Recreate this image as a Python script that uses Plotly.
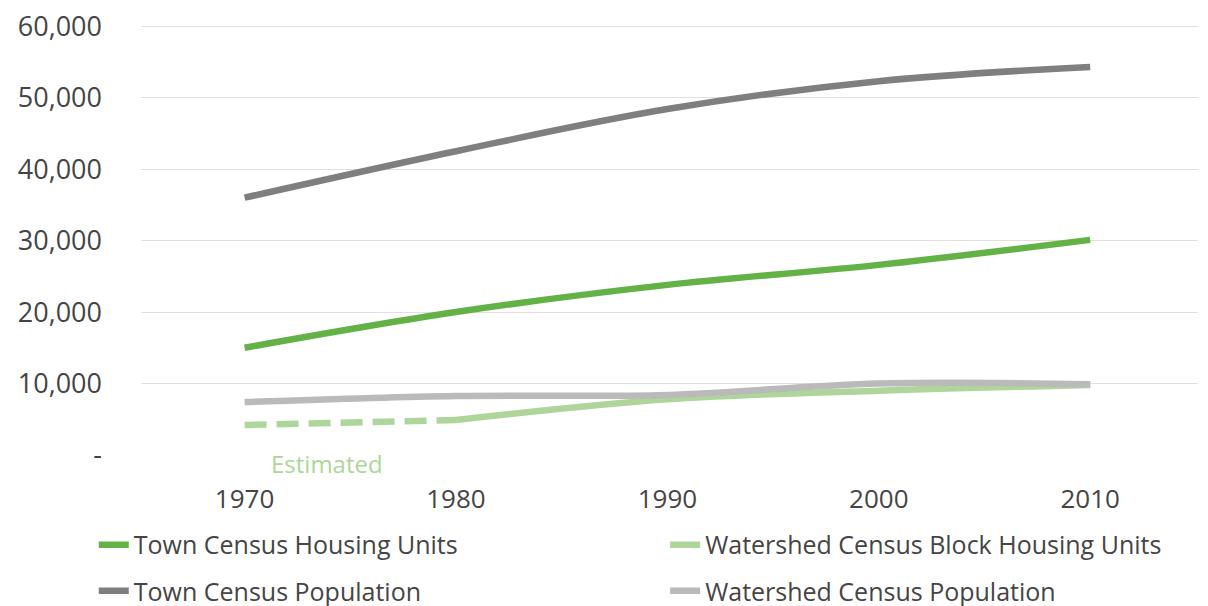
import plotly.graph_objects as go

years = [1970, 1980, 1990, 2000, 2010]
town_housing = [15000, 20000, 23800, 26600, 30100]
town_population = [36000, 42500, 48400, 52300, 54300]
watershed_population = [7400, 8250, 8400, 10000, 9900]
watershed_housing = [4200, 4900, 7800, 9000, 9800]

green = "#62b246"
dark_gray = "#7f7f7f"
light_green = "#aed69a"
light_gray = "#bababa"
font = "Open Sans"
text_color = "#454545"

fig = go.Figure()

# estimated part of the watershed housing series, drawn dashed
fig.add_trace(go.Scatter(x=years[:2], y=watershed_housing[:2], mode="lines",
                         line=dict(color=light_green, width=6.5, dash="22px,10px"),
                         showlegend=False, hoverinfo="skip"))
fig.add_trace(go.Scatter(x=years[1:], y=watershed_housing[1:], mode="lines",
                         name="Watershed Census Block Housing Units", legend="legend2",
                         line=dict(color=light_green, width=6.5, shape="spline")))
fig.add_trace(go.Scatter(x=years, y=watershed_population, mode="lines",
                         name="Watershed Census Population", legend="legend4",
                         line=dict(color=light_gray, width=6.5, shape="spline")))
fig.add_trace(go.Scatter(x=years, y=town_housing, mode="lines",
                         name="Town Census Housing Units", legend="legend",
                         line=dict(color=green, width=6.5, shape="spline")))
fig.add_trace(go.Scatter(x=years, y=town_population, mode="lines",
                         name="Town Census Population", legend="legend3",
                         line=dict(color=dark_gray, width=6.5, shape="spline")))

fig.add_annotation(x=1973.9, y=0, text="Estimated", showarrow=False,
                   yanchor="middle", yshift=-8, bgcolor="white",
                   font=dict(family=font, size=24, color=light_green))

fig.update_xaxes(range=[1965.1, 2015.1], tickvals=years, showgrid=False,
                 zeroline=False, ticklabelstandoff=26, automargin=False,
                 tickfont=dict(family=font, size=26, color=text_color))
# small headroom so the 60,000 gridline stays inside the plot; allow the top label to show
fig.update_yaxes(range=[0, 60300], tickvals=[0, 10000, 20000, 30000, 40000, 50000, 60000],
                 ticktext=["-", "10,000", "20,000", "30,000", "40,000", "50,000", "60,000"],
                 gridcolor="#e4dfdc", gridwidth=1, zeroline=False, ticklabelstandoff=38,
                 automargin=False, ticklabeloverflow="allow",
                 tickfont=dict(family=font, size=27, color=text_color))

legend_font = dict(family=font, size=25, color=text_color)


def legend_box(x, y):
    return dict(orientation="h", xref="container", yref="container", x=x, y=y,
                xanchor="left", yanchor="bottom", bgcolor="rgba(0,0,0,0)",
                font=legend_font)


fig.update_layout(
    width=1208, height=606,
    plot_bgcolor="white", paper_bgcolor="white",
    margin=dict(l=133, r=18, t=16, b=159),
    showlegend=True,
    legend=legend_box(0.071, 0.076),
    legend2=legend_box(0.544, 0.076),
    legend3=legend_box(0.071, 0.0),
    legend4=legend_box(0.544, 0.0),
)

fig.write_html("out.html")
